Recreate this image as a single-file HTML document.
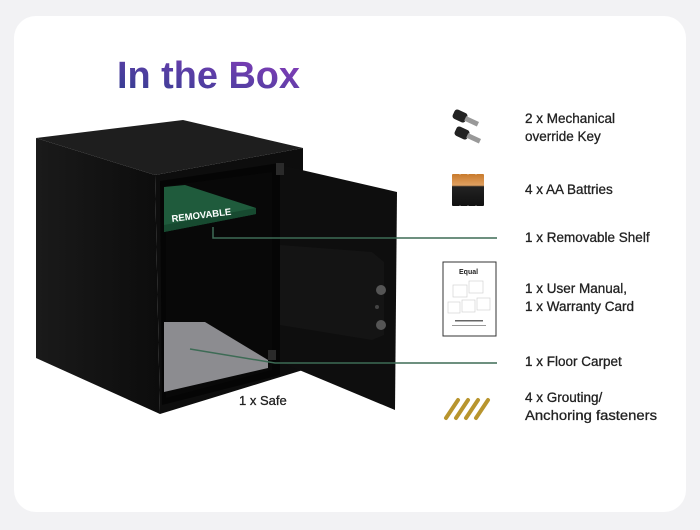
<!DOCTYPE html>
<html><head><meta charset="utf-8"><style>
html,body{margin:0;padding:0;background:#f2f2f4;}
svg{display:block;}
text{font-family:"Liberation Sans",sans-serif;}
</style></head><body>
<svg width="700" height="530" viewBox="0 0 700 530" xmlns="http://www.w3.org/2000/svg">
<defs>
<linearGradient id="tg" x1="0" y1="1" x2="1" y2="0">
<stop offset="0" stop-color="#2f3d8e"/><stop offset="0.5" stop-color="#5a3ea6"/><stop offset="1" stop-color="#8e3cbc"/></linearGradient>
<linearGradient id="side" x1="0" y1="0" x2="1" y2="0">
<stop offset="0" stop-color="#1a1a1a"/><stop offset="1" stop-color="#0c0c0c"/></linearGradient>
<linearGradient id="bat" x1="0" y1="0" x2="0" y2="1">
<stop offset="0" stop-color="#c87a2c"/><stop offset="0.35" stop-color="#e0a060"/><stop offset="0.4" stop-color="#222"/><stop offset="1" stop-color="#111"/></linearGradient>
</defs>
<rect x="0" y="0" width="700" height="530" fill="#f2f2f4"/>
<rect x="14" y="16" width="672" height="496" rx="22" fill="#ffffff"/>
<text x="117" y="88" font-size="38" font-weight="bold" fill="url(#tg)" textLength="183" lengthAdjust="spacingAndGlyphs">In the Box</text>

<!-- safe body -->
<polygon points="36,138 183,120 303,148 155,175" fill="#1e1e1e"/>
<polygon points="36,138 155,175 160,414 36,358" fill="url(#side)"/>
<polygon points="155,175 303,148 303,370 160,414" fill="#0d0d0d"/>
<polygon points="160,181 280,163 280,375 162,405" fill="#050505"/>
<polygon points="166,186 272,172 272,370 166,398" fill="#080808"/>
<!-- shelf -->
<polygon points="164,187 185,185 256,208 256,214 164,232" fill="#1f5b3c"/>
<polygon points="164,225 256,208 256,214 164,232" fill="#174a30"/>
<text x="172" y="222" font-size="9.5" font-weight="bold" fill="#fff" transform="rotate(-7 172 222)" textLength="60" lengthAdjust="spacingAndGlyphs">REMOVABLE</text>
<!-- carpet -->
<polygon points="164,322 205,322 268,360 268,368 164,392" fill="#8c8c90"/>
<!-- door -->
<polygon points="280,165 397,192 395,410 280,362" fill="#0e0e0e"/>
<polygon points="280,245 372,252 384,262 384,335 372,340 280,325" fill="#141414"/>
<circle cx="381" cy="290" r="5" fill="#555"/>
<circle cx="381" cy="325" r="5" fill="#555"/>
<circle cx="377" cy="307" r="2" fill="#444"/>
<rect x="276" y="163" width="8" height="12" fill="#2a2a2a"/>
<rect x="268" y="350" width="8" height="10" fill="#2a2a2a"/>
<!-- connectors -->
<polyline points="213,227 213,238 497,238" fill="none" stroke="#3d6b55" stroke-width="1.5"/>
<polyline points="190,349 275,363 497,363" fill="none" stroke="#3d6b55" stroke-width="1.5"/>
<text x="239" y="405" font-size="13" fill="#222" stroke="#222" stroke-width="0.3">1 x Safe</text>

<!-- keys -->
<g fill="#222"><rect x="453" y="111" width="14" height="10" rx="3" transform="rotate(25 460 116)"/>
<rect x="455" y="128" width="14" height="10" rx="3" transform="rotate(25 462 133)"/></g>
<g fill="#999"><rect x="465" y="118" width="14" height="5" transform="rotate(25 470 120)"/>
<rect x="467" y="135" width="14" height="5" transform="rotate(25 472 137)"/></g>
<!-- batteries -->
<g fill="url(#bat)"><rect x="452" y="174" width="8" height="32" rx="1"/><rect x="460" y="174" width="8" height="32" rx="1"/><rect x="468" y="174" width="8" height="32" rx="1"/><rect x="476" y="174" width="8" height="32" rx="1"/></g>
<!-- manual -->
<rect x="443" y="262" width="53" height="74" fill="#fff" stroke="#333" stroke-width="1"/>
<text x="459" y="274" font-size="7" font-weight="bold" fill="#222">Equal</text>
<g fill="none" stroke="#ccc" stroke-width="0.6"><rect x="453" y="285" width="14" height="12"/><rect x="469" y="281" width="14" height="12"/><rect x="448" y="302" width="12" height="11"/><rect x="462" y="300" width="13" height="12"/><rect x="477" y="298" width="13" height="12"/></g>
<rect x="455" y="320" width="28" height="1.5" fill="#666"/><rect x="452" y="325" width="34" height="1" fill="#999"/>
<!-- fasteners -->
<g stroke="#b8952e" stroke-width="4" stroke-linecap="round">
<line x1="446" y1="418" x2="458" y2="400"/><line x1="456" y1="418" x2="468" y2="400"/><line x1="466" y1="418" x2="478" y2="400"/><line x1="476" y1="418" x2="488" y2="400"/></g>

<g font-size="13.5" fill="#222" stroke="#222" stroke-width="0.3">
<text x="525" y="123">2 x Mechanical</text>
<text x="525" y="141">override Key</text>
<text x="525" y="194">4 x AA Battries</text>
<text x="525" y="242">1 x Removable Shelf</text>
<text x="525" y="293">1 x User Manual,</text>
<text x="525" y="311">1 x Warranty Card</text>
<text x="525" y="366">1 x Floor Carpet</text>
<text x="525" y="402">4 x Grouting/</text>
<text x="525" y="420" textLength="132" lengthAdjust="spacingAndGlyphs">Anchoring fasteners</text>
</g>
</svg>
</body></html>
